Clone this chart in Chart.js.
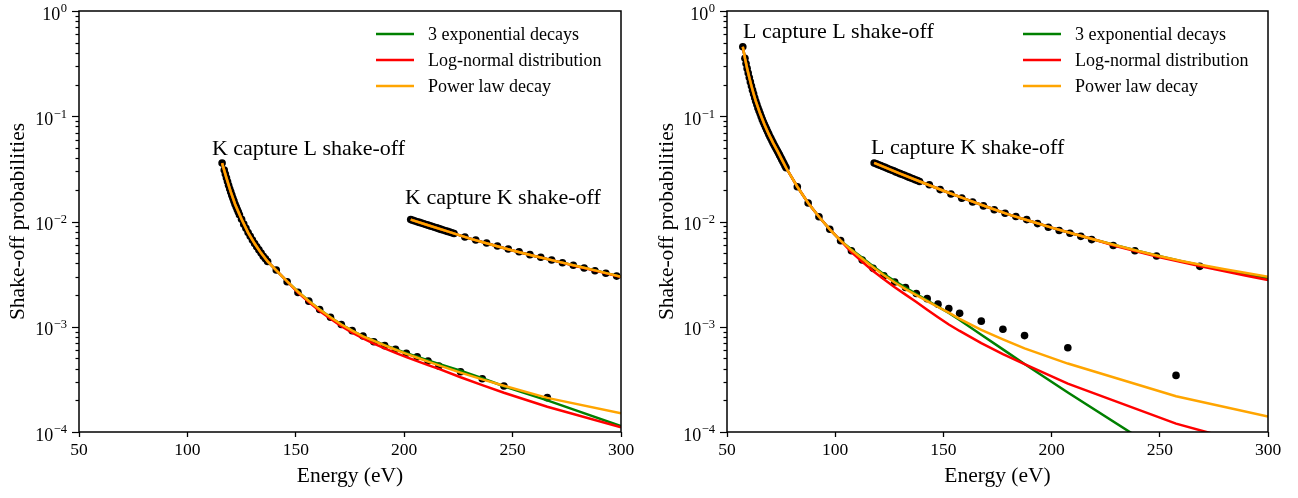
<!DOCTYPE html>
<html>
<head>
<meta charset="utf-8">
<script src="https://cdn.jsdelivr.net/npm/chart.js@4.4.1/dist/chart.umd.min.js"></script>
<style>
  html, body { margin: 0; padding: 0; background: #fff; }
  #wrap { position: relative; width: 1298px; height: 498px; }
  #wrap canvas { position: absolute; top: 0; }
</style>
</head>
<body>
<div id="wrap">
  <canvas id="leftChart" width="649" height="498" style="left:0;width:649px;height:498px"></canvas>
  <canvas id="rightChart" width="649" height="498" style="left:649px;width:649px;height:498px"></canvas>
</div>
<script>
// ---- data ----
// axis ticks
const xTickValues = [50, 100, 150, 200, 250, 300];
const yTickExponents = [-4, -3, -2, -1, 0];
const legendLabels = ['3 exponential decays', 'Log-normal distribution', 'Power law decay'];

// K capture, L shake-off (left panel)
const kL_energy = [116,117,117.5,118,118.5,119,119.5,120,120.5,121,121.5,122,122.5,123,123.5,124,125,126,127,128,129,130,131,132,133,134,135,136,137,
  141,146,151,156,161,166,171,176,181,186,191,196,201,206,211,216,226,236,246,266];
const kL_prob = [0.0359,0.0309,0.0283,0.0260,0.0240,0.0221,0.0205,0.0191,0.0178,0.0166,0.0156,0.0146,0.0138,0.0130,0.0123,0.0116,0.0105,0.00944,0.00861,0.00785,0.00724,0.00668,0.00617,0.00575,0.00537,0.00501,0.00468,0.00442,0.00417,
  0.00346,0.00268,0.00212,0.00175,0.00146,0.00123,0.00105,0.000918,0.000817,0.000721,0.000661,0.000610,0.000560,0.000519,0.000473,0.000424,0.000374,0.000321,0.000274,0.000212];
const kL_fitE = [116,118,120,122,125,128,131,134,137,141,146,151,156,161,166,171,176,181,186,191,196,201,206,211,216,226,236,246,266,300];
const kL_exp = [0.0359,0.0260,0.0191,0.0146,0.0105,0.00785,0.00617,0.00501,0.00417,0.00343,0.00270,0.00215,0.00176,0.00146,0.00123,0.00105,0.000918,0.000809,
  0.000736,0.000670,0.000612,0.000562,0.000519,0.000479,0.000444,0.000383,0.000324,0.000272,0.000200,0.000114];
const kL_logn = [0.0359,0.0260,0.0191,0.0146,0.0105,0.00785,0.00617,0.00501,0.00417,0.00343,0.00270,
  0.00211,0.00172,0.00141,0.00119,0.00101,0.000881,0.000776,0.000692,0.000624,0.000565,0.000515,0.000471,0.000432,0.000398,0.000331,0.000279,0.000236,0.000174,0.000111];
const kL_pow = [0.0359,0.0260,0.0191,0.0146,0.0105,0.00785,0.00617,0.00501,0.00417,0.00343,0.00270,0.00215,0.00176,0.00146,0.00123,0.00105,0.000918,0.000809,
  0.000733,0.000665,0.000605,0.000553,0.000507,0.000466,0.000430,0.000367,0.000316,0.000275,0.000211,0.000151];

// K capture, K shake-off (left panel)
const kK_energy = [203,204,205,206,207,208,209,210,211,212,213,214,215,216,217,218,219,220,221,222,223,
  228,233,238,243,248,253,258,263,268,273,278,283,288,293,298];
const kK_prob = [0.01042,0.01026,0.01012,0.00995,0.00980,0.00966,0.00951,0.00937,0.00923,0.00908,0.00895,0.00881,0.00869,0.00855,0.00841,0.00830,0.00817,0.00805,0.00793,0.00782,0.00769,
  0.00713,0.00667,0.00625,0.00585,0.00548,0.00516,0.00484,0.00457,0.00431,0.00406,0.00384,0.00361,0.00341,0.00322,0.00303];
const kK_fitE = [203,210,220,230,240,250,260,270,280,290,300];
const kK_exp = [0.01042,0.00937,0.00805,0.00692,0.00604,0.00531,0.00471,0.00420,0.00375,0.00336,0.00299];
const kK_logn = [0.01042,0.00937,0.00805,0.00692,0.00604,0.00531,0.00471,0.00420,0.00374,0.00334,0.00297];
const kK_pow = [0.01042,0.00937,0.00805,0.00692,0.00604,0.00531,0.00471,0.00420,0.00375,0.00336,0.00299];

// L capture, L shake-off (right panel)
const lL_energy = [57.3,58.3,58.8,59.3,59.8,60.3,60.8,61.3,61.8,62.3,62.8,63.3,63.8,64.3,64.8,65.3,65.8,66.3,66.8,67.3,67.8,68.3,68.8,69.3,69.8,
  70.3,70.8,71.3,71.8,72.3,72.8,73.3,73.8,74.3,74.8,75.3,75.8,76.3,76.8,77.3,
  82.5,87.5,92.5,97.5,102.5,107.5,112.5,117.5,122.5,127.5,132.5,137.5,142.5,147.5,152.5,157.5,
  167.5,177.5,187.5,207.5,257.5];
const lL_prob = [0.458,0.356,0.317,0.285,0.257,0.233,0.212,0.194,0.177,0.163,0.150,0.139,0.129,0.120,0.113,0.106,0.0993,0.0933,0.0881,0.0836,0.0791,0.0750,0.0711,0.0676,0.0643,
  0.0614,0.0585,0.0558,0.0533,0.0511,0.0489,0.0468,0.0447,0.0427,0.0407,0.0389,0.0372,0.0355,0.0339,0.0324,
  0.0214,0.0150,0.0111,0.00843,0.00658,0.00528,0.00431,0.00359,0.00305,0.00266,0.00236,0.00207,0.00185,0.00164,0.00149,0.00134,
  0.00113,0.000948,0.000824,0.000631,0.000345];
const lL_fitE = [57.3,58.3,59.3,60.3,61.3,62.3,63.3,65.3,67.3,69.3,71.3,73.3,75.3,77.3,82.5,87.5,92.5,97.5,102.5,
  107.5,112.5,117.5,122.5,127.5,132.5,137.5,142.5,147.5,152.5,157.5,167.5,177.5,187.5,207.5,257.5,300];
const lL_exp = [0.458,0.356,0.285,0.233,0.194,0.163,0.139,0.106,0.0836,0.0676,0.0558,0.0468,0.0389,0.0324,0.0214,0.0150,0.0111,0.00843,0.00658,
  0.00543,0.00452,0.00376,0.00316,0.00272,0.00236,0.00204,0.00178,0.00155,0.00135,0.00116,0.000841,0.000610,0.000442,0.000237,0.0000525,0.0000141];
const lL_logn = [0.458,0.356,0.285,0.233,0.194,0.163,0.139,0.106,0.0836,0.0676,0.0558,0.0468,0.0389,0.0324,0.0214,0.0150,0.0111,0.00843,0.00658,
  0.00513,0.00415,0.00339,0.00282,0.00237,0.00202,0.00172,0.00145,0.00123,0.00105,0.000912,0.000700,0.000550,0.000442,0.000288,0.000120,0.0000692];
const lL_pow = [0.458,0.356,0.285,0.233,0.194,0.163,0.139,0.106,0.0836,0.0676,0.0558,0.0468,0.0389,0.0324,0.0214,0.0150,0.0111,0.00843,0.00658,
  0.00535,0.00442,0.00367,0.00309,0.00263,0.00228,0.00200,0.00175,0.00154,0.00136,0.00119,0.000933,0.000759,0.000624,0.000447,0.000219,0.000140];

// L capture, K shake-off (right panel)
const lK_energy = [118,119,120,121,122,123,124,125,126,127,128,129,130,131,132,133,134,135,136,137,138,139,
  143.5,148.5,153.5,158.5,163.5,168.5,173.5,178.5,183.5,188.5,193.5,198.5,203.5,208.5,213.5,218.5,
  228.5,238.5,248.5,268.5];
const lK_prob = [0.0360,0.0353,0.0346,0.0340,0.0333,0.0327,0.0321,0.0314,0.0308,0.0303,0.0296,0.0291,0.0285,0.0280,0.0275,0.0269,0.0264,0.0259,0.0255,0.0249,0.0245,0.0240,
  0.02234,0.02009,0.01828,0.01667,0.01531,0.01406,0.01294,0.01199,0.01114,0.01042,0.00955,0.00883,0.00822,0.00773,0.00723,0.00673,
  0.00592,0.00528,0.00470,0.00375];
const lK_fitE = [118,130,140,150,160,170,180,190,200,210,220,230,240,250,260,270,280,290,300];
const lK_exp = [0.0360,0.0285,0.0236,0.0196,0.0164,0.0138,0.0117,0.0101,0.00875,0.00764,0.00670,0.00592,0.00525,0.00468,0.00419,0.00380,0.00345,0.00314,0.00288];
const lK_logn = [0.0360,0.0285,0.0236,0.0196,0.0164,0.0138,0.0117,0.0101,0.00875,0.00764,0.00670,0.00582,0.00515,0.00458,0.00411,0.00372,0.00336,0.00305,0.00278];
const lK_pow = [0.0360,0.0285,0.0236,0.0196,0.0164,0.0138,0.0117,0.0101,0.00875,0.00764,0.00670,0.00592,0.00525,0.00468,0.00422,0.00384,0.00352,0.00324,0.00299];

// ---- styles ----
const SERIF = "'Liberation Serif', 'Times New Roman', serif";
const GREEN = '#008000', RED = '#ff0000', ORANGE = '#ffa500';
const legendColors = [GREEN, RED, ORANGE];

function pts(xs, ys) {
  return xs.map((x, i) => ({ x: x, y: ys[i] }));
}
function dots(xs, ys) {
  return { data: pts(xs, ys), showLine: false, pointRadius: 3.8, pointHoverRadius: 0,
    pointBackgroundColor: '#000', pointBorderWidth: 0, order: 3 };
}
function fit(xs, ys, color, order) {
  return { data: pts(xs, ys), borderColor: color, borderWidth: 2.5, pointRadius: 0,
    tension: 0, fill: false, order: order };
}

// frame, log ticks, legend and annotations
const decor = {
  id: 'decor',
  afterDraw(chart, args, opts) {
    const ctx = chart.ctx, a = chart.chartArea, y = chart.scales.y, x = chart.scales.x;
    ctx.save();
    ctx.strokeStyle = '#000';
    ctx.lineWidth = 1.5;
    ctx.strokeRect(a.left, a.top, a.right - a.left, a.bottom - a.top);

    // y ticks (major + minor)
    ctx.lineWidth = 1.2;
    yTickExponents.forEach(d => {
      for (let m = 1; m <= 9; m++) {
        const v = m * Math.pow(10, d);
        if (v > 1.0001) break;
        const py = Math.round(y.getPixelForValue(v)) + 0.5;
        const len = m === 1 ? 7 : 3.5;
        ctx.beginPath();
        ctx.moveTo(a.left - len, py);
        ctx.lineTo(a.left, py);
        ctx.stroke();
      }
    });

    // y tick labels 10^n
    ctx.fillStyle = '#000';
    ctx.textAlign = 'left';
    ctx.textBaseline = 'middle';
    yTickExponents.forEach(d => {
      const py = y.getPixelForValue(Math.pow(10, d));
      const ex = d === 0 ? '0' : '\u2212' + Math.abs(d);
      ctx.font = '12.5px ' + SERIF;
      const we = ctx.measureText(ex).width;
      ctx.font = '18px ' + SERIF;
      const wb = ctx.measureText('10').width;
      const xr = a.left - 12;
      ctx.fillText('10', xr - we - wb - 0.5, py + 4);
      ctx.font = '12.5px ' + SERIF;
      ctx.fillText(ex, xr - we, py - 2);
    });

    // legend
    const lx = a.right - 245;
    legendLabels.forEach((t, i) => {
      const ly = a.top + 23 + i * 26;
      ctx.strokeStyle = legendColors[i];
      ctx.lineWidth = 2.5;
      ctx.beginPath();
      ctx.moveTo(lx, ly);
      ctx.lineTo(lx + 38, ly);
      ctx.stroke();
      ctx.fillStyle = '#000';
      ctx.font = '18px ' + SERIF;
      ctx.textBaseline = 'middle';
      ctx.fillText(t, lx + 52, ly + 1);
    });

    // curve annotations
    ctx.font = '22px ' + SERIF;
    ctx.textBaseline = 'alphabetic';
    (opts.notes || []).forEach(n => {
      ctx.fillText(n.text, x.getPixelForValue(n.x), y.getPixelForValue(n.y));
    });
    ctx.restore();
  }
};

function makeChart(id, datasets, notes, leftW, rightPad) {
  return new Chart(document.getElementById(id), {
    type: 'line',
    data: { datasets: datasets },
    options: {
      responsive: false,
      animation: false,
      events: [],
      layout: { padding: { left: 0, right: rightPad, top: 11, bottom: 0 } },
      plugins: {
        legend: { display: false },
        tooltip: { enabled: false },
        decor: { notes: notes }
      },
      scales: {
        x: {
          type: 'linear', min: 50, max: 300,
          afterBuildTicks: s => { s.ticks = xTickValues.map(v => ({ value: v })); },
          afterFit: s => { s.height = 66; s.paddingLeft = 0; s.paddingRight = 0; },
          border: { display: false },
          grid: { display: true, drawOnChartArea: false, drawTicks: true, tickLength: 5, tickWidth: 1.3, tickColor: '#000' },
          ticks: { color: '#000', font: { family: SERIF, size: 17.5 }, padding: 3, maxRotation: 0, autoSkip: false },
          title: { display: true, text: 'Energy (eV)', color: '#000', font: { family: SERIF, size: 21.5 }, padding: { top: 0, bottom: 9 } }
        },
        y: {
          type: 'logarithmic', min: 1e-4, max: 1,
          afterFit: s => { s.width = leftW; s.paddingTop = 0; s.paddingBottom = 0; },
          border: { display: false },
          grid: { display: false },
          ticks: { display: false },
          title: { display: true, text: 'Shake-off probabilities', color: '#000', font: { family: SERIF, size: 21.5 }, padding: { top: 5, bottom: 0 } }
        }
      }
    },
    plugins: [decor]
  });
}

makeChart('leftChart', [
  dots(kL_energy, kL_prob),
  dots(kK_energy, kK_prob),
  fit(kL_fitE, kL_exp, GREEN, 2),
  fit(kL_fitE, kL_logn, RED, 1),
  fit(kL_fitE, kL_pow, ORANGE, 0),
  fit(kK_fitE, kK_exp, GREEN, 2),
  fit(kK_fitE, kK_logn, RED, 1),
  fit(kK_fitE, kK_pow, ORANGE, 0)
], [
  { text: 'K capture L shake-off', x: 111.3, y: 0.0433 },
  { text: 'K capture K shake-off', x: 200.4, y: 0.01466 }
], 79, 28);

makeChart('rightChart', [
  dots(lL_energy, lL_prob),
  dots(lK_energy, lK_prob),
  fit(lL_fitE, lL_exp, GREEN, 2),
  fit(lL_fitE, lL_logn, RED, 1),
  fit(lL_fitE, lL_pow, ORANGE, 0),
  fit(lK_fitE, lK_exp, GREEN, 2),
  fit(lK_fitE, lK_logn, RED, 1),
  fit(lK_fitE, lK_pow, ORANGE, 0)
], [
  { text: 'L capture L shake-off', x: 57.4, y: 0.557 },
  { text: 'L capture K shake-off', x: 116.6, y: 0.0438 }
], 78, 30);
</script>
</body>
</html>
